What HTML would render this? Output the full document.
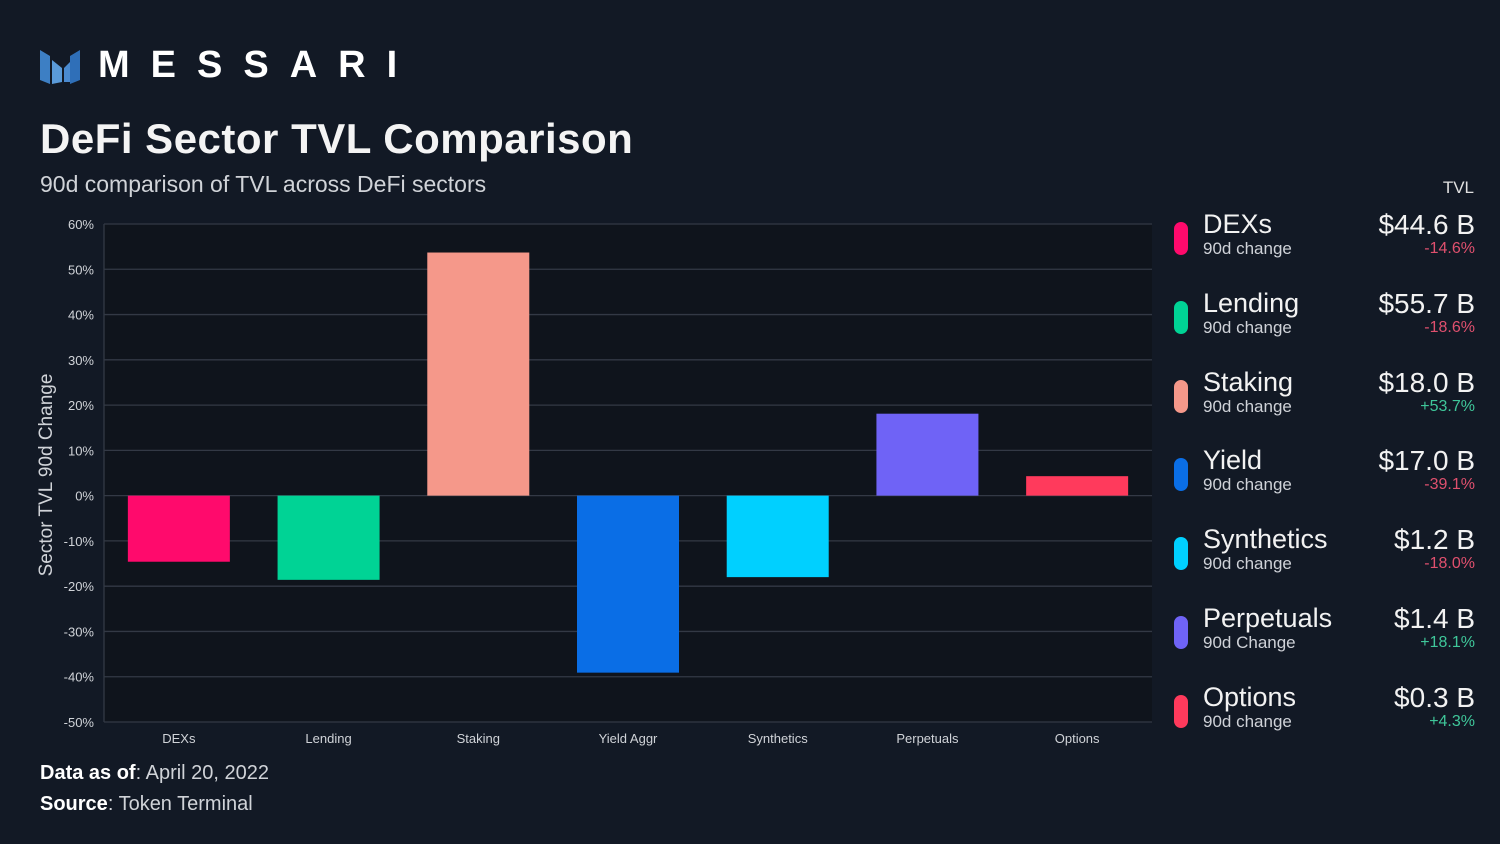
<!DOCTYPE html>
<html><head><meta charset="utf-8"><style>
body{margin:0;width:1500px;height:844px;background:#121925;font-family:"Liberation Sans","DejaVu Sans",sans-serif;color:#fff;position:relative;overflow:hidden}
.abs{position:absolute}
.leg{position:absolute;left:1172px;width:303px;height:60px}
.leg .sw{position:absolute;left:2px;top:10px;width:14px;height:33px;border-radius:7px}
.leg .nm{position:absolute;left:31px;top:-3px;font-size:27px;color:#f2f2f2}
.leg .sub{position:absolute;left:31px;top:27px;font-size:17px;color:#cfd2d8}
.leg .val{position:absolute;right:0;top:-3px;font-size:28px;color:#f2f2f2;font-weight:500}
.leg .pct{position:absolute;right:0;top:28px;font-size:16px}
</style></head><body>
<div class="abs" style="left:40px;top:46px;width:380px;height:40px">
<svg width="42" height="40" class="abs" style="left:0;top:0"><polygon points="0,4 10,10 10,38 0,34" fill="#3d7fc4"/><polygon points="12,14 22,22 22,36 12,38" fill="#5a9ad8"/><polygon points="24,22 34,12 34,36 24,36" fill="#4a8ad0"/><polygon points="30,10 40,4 40,34 30,38" fill="#2f6fb8"/></svg>
<div class="abs" style="left:58px;top:-2px;font-size:38px;font-weight:bold;letter-spacing:21px;color:#fff">MESSARI</div></div>
<div class="abs" style="left:40px;top:115px;font-size:42px;font-weight:bold;color:#f4f4f4;letter-spacing:0.5px">DeFi Sector TVL Comparison</div>
<div class="abs" style="left:40px;top:171px;font-size:23px;color:#d0d3d8">90d comparison of TVL across DeFi sectors</div>
<div class="abs" style="left:40px;top:762px;font-size:20px;color:#d0d3d8"><b style="color:#fff">Data as of</b>:  April 20, 2022</div>
<div class="abs" style="left:40px;top:793px;font-size:20px;color:#d0d3d8"><b style="color:#fff">Source</b>:  Token Terminal</div>
<svg id="chart" class="abs" style="left:0;top:0" width="1500" height="844"></svg>
<div class="abs" style="right:26px;top:178px;font-size:17px;color:#e0e0e0">TVL</div>
<div id="legend"></div>
<script>
const categories=["DEXs","Lending","Staking","Yield Aggr","Synthetics","Perpetuals","Options"];
const values=[-14.6,-18.6,53.7,-39.1,-18.0,18.1,4.3];
const colors=["#ff0a6c","#00d395","#f5988a","#0a6ee6","#00d0ff","#6f63f6","#ff3a5c"];
const ticks=[60,50,40,30,20,10,0,-10,-20,-30,-40,-50];
const legNames=["DEXs","Lending","Staking","Yield","Synthetics","Perpetuals","Options"];
const legTvl=["$44.6 B","$55.7 B","$18.0 B","$17.0 B","$1.2 B","$1.4 B","$0.3 B"];
const legSub=["90d change","90d change","90d change","90d change","90d change","90d Change","90d change"];
const NS="http://www.w3.org/2000/svg";
const svg=document.getElementById('chart');
const x0=104,x1=1152,yTop=224,yBot=722,vMax=60,vMin=-50;
const y=v=>yTop+(vMax-v)/(vMax-vMin)*(yBot-yTop);
const band=(x1-x0)/categories.length;
const bx=i=>x0+band*i+band/2;
function mk(t,a){const e=document.createElementNS(NS,t);for(const k in a)e.setAttribute(k,a[k]);svg.appendChild(e);return e;}
let bg=mk('rect',{x:x0,y:yTop,width:x1-x0,height:yBot-yTop,fill:'#0f141c'});


ticks.forEach(t=>{
 let l=mk('line',{x1:x0,x2:x1,y1:y(t),y2:y(t),stroke:'#333945','stroke-width':1.3});
 
 
 let tx=mk('text',{x:94,y:y(t)+5,'text-anchor':'end','font-size':13,fill:'#d0d3d8','font-family':'Liberation Sans, sans-serif'});
 tx.textContent=t+'%';
 
 
});
let ax=mk('line',{x1:x0,x2:x0,y1:yTop,y2:yBot,stroke:'#333945','stroke-width':1.3});


categories.forEach((c,i)=>{
 const v=values[i],bw=102;
 let r=mk('rect',{x:bx(i)-bw/2,y:Math.min(y(v),y(0)),width:bw,height:Math.abs(y(v)-y(0)),fill:colors[i]});
 
 
 let t=mk('text',{x:bx(i),y:743,'text-anchor':'middle','font-size':13,fill:'#d0d3d8','font-family':'Liberation Sans, sans-serif'});
 t.textContent=c;
 
 
});
let yt=mk('text',{x:0,y:0,transform:'translate(52,475) rotate(-90)','text-anchor':'middle','font-size':19,fill:'#d0d3d8','font-family':'Liberation Sans, sans-serif'});
yt.textContent='Sector TVL 90d Change';


const leg=document.getElementById('legend');
legNames.forEach((n,i)=>{
 const d=document.createElement('div');
 d.className='leg';d.style.top=(212+i*78.8)+'px';
 
 
 const v=values[i];const p=(v>0?'+':'')+v.toFixed(1)+'%';
 d.innerHTML=`<div class="sw" style="background:${colors[i]}"></div><div class="nm">${n}</div><div class="sub">${legSub[i]}</div><div class="val">${legTvl[i]}</div><div class="pct" style="color:${v<0?'#e0506e':'#3fc79a'}">${p}</div>`;
 leg.appendChild(d);
});
</script>
</body></html>
